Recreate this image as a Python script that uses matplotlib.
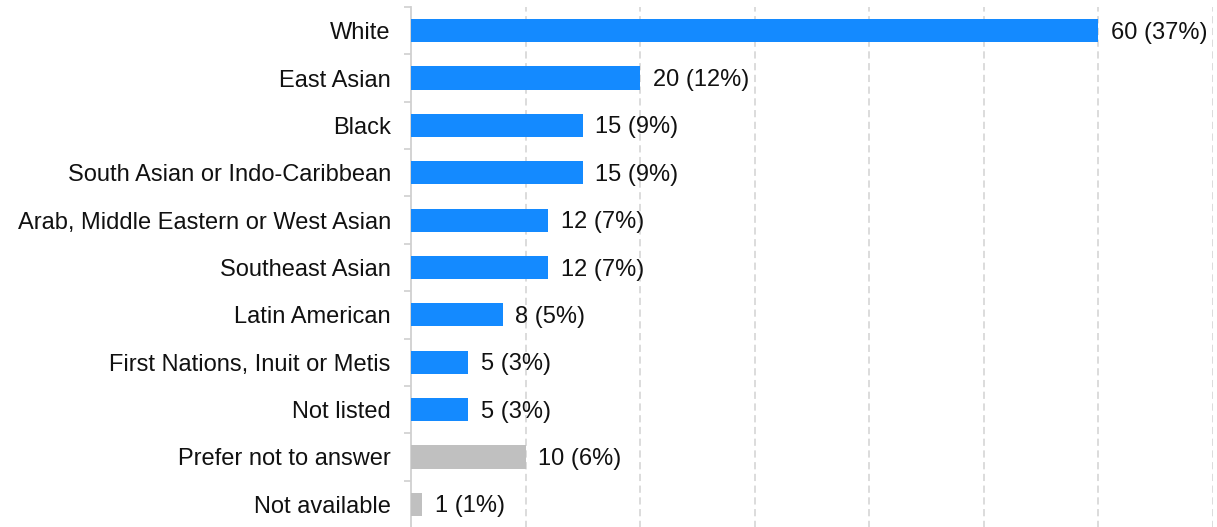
import matplotlib
matplotlib.use("Agg")
import matplotlib.pyplot as plt
import numpy as np

plt.rcParams['font.family'] = ['Liberation Sans', 'DejaVu Sans']

# data
categories = ["White", "East Asian", "Black", "South Asian or Indo-Caribbean",
              "Arab, Middle Eastern or West Asian", "Southeast Asian",
              "Latin American", "First Nations, Inuit or Metis", "Not listed",
              "Prefer not to answer", "Not available"]
counts = [60, 20, 15, 15, 12, 12, 8, 5, 5, 10, 1]
percents = [37, 12, 9, 9, 7, 7, 5, 3, 3, 6, 1]
grey_cats = ["Prefer not to answer", "Not available"]

blue = "#148AFF"
grey = "#C0C0C0"
colors = [grey if c in grey_cats else blue for c in categories]

fig = plt.figure(figsize=(12.17, 5.27), dpi=100)
ax = fig.add_axes([411 / 1217, -1 / 527, 802 / 1217, 521 / 527])

y = np.arange(len(categories))
ax.barh(y, counts, height=0.49, color=colors, zorder=3)

for yi, c, p in zip(y, counts, percents):
    ax.annotate(f"{c} ({p}%)", (c, yi), xytext=(9, -1.5), textcoords="offset points",
                va="center", ha="left", fontsize=17, color="#111111")

ax.set_xlim(0, 70)
ax.set_ylim(len(categories) - 0.5, -0.5)

# dashed vertical gridlines
ax.set_xticks(np.arange(10, 71, 10))
ax.xaxis.grid(True, linestyle=(0, (4, 2.5)), color="#d9d9d9", linewidth=1.3, zorder=0)
ax.tick_params(axis="x", length=0, labelbottom=False)

# category labels at the bar centres, tick marks at the band edges
ax.set_yticks(y)
ax.set_yticklabels(categories, fontsize=17, color="#111111")
ax.tick_params(axis="y", which="major", length=0, pad=14.5)
ax.set_yticks(np.arange(-0.5, len(categories) + 0.5, 1), minor=True)
ax.tick_params(axis="y", which="minor", length=5, width=1.2, color="#d0d0d0")

for side in ["top", "right", "bottom"]:
    ax.spines[side].set_visible(False)
ax.spines["left"].set_color("#d0d0d0")
ax.spines["left"].set_linewidth(1.3)

fig.savefig("out.png", dpi=100)
